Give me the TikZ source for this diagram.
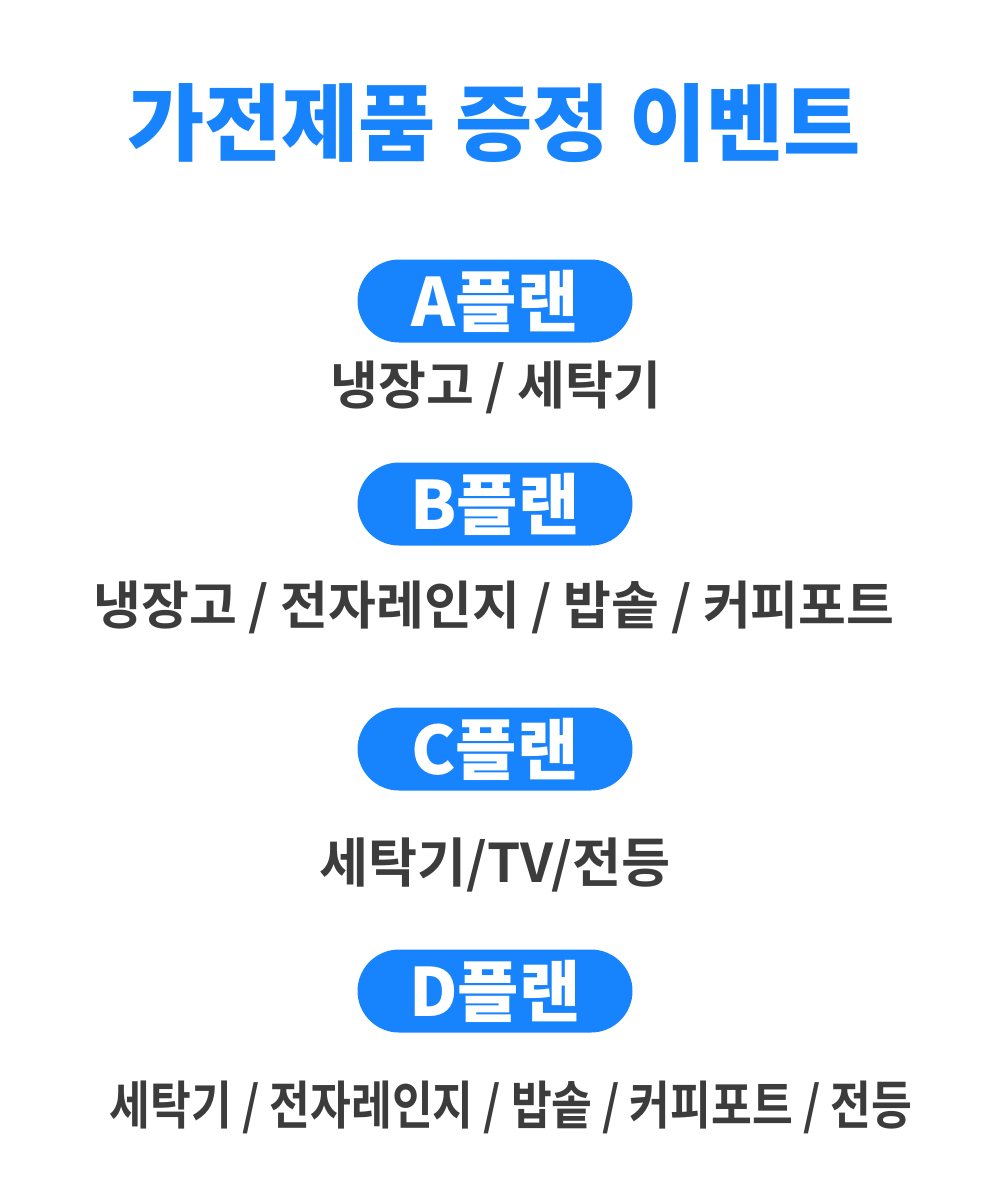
\documentclass[tikz,border=0pt]{standalone}
\usepackage{fontspec}
\usepackage{xcolor}
\usetikzlibrary{positioning}
\newfontfamily\kr{Noto Sans CJK KR Bold}
\newfontfamily\krheavy{Noto Sans CJK KR Black}
\definecolor{planblue}{HTML}{1784FD}
\definecolor{itemgray}{HTML}{3C3C3C}
\tikzset{
    plan/.style={fill=planblue, rounded corners=41.5*0.75pt, minimum width=275*0.75pt,
        minimum height=83*0.75pt, inner sep=0pt, text=white, font=\krheavy\fontsize{50}{50}\selectfont},
    items/.style={text=itemgray, inner sep=0pt, font=\kr\fontsize{39}{39}\selectfont}
}
\begin{document}
\begin{tikzpicture}[x=0.75pt,y=-0.75pt]
    \useasboundingbox (0,0) rectangle (990,1198);
    \node[text=planblue, font=\krheavy\fontsize{63}{63}\selectfont] (title) at (494,123) {가전제품 증정 이벤트};
    \node[plan] (A) at (495,301) {A플랜};
    \node[items] (Aitems) at (496,387) {냉장고 / 세탁기};
    \node[plan] (B) at (495,504) {B플랜};
    \node[items] (Bitems) at (494,607) {냉장고 / 전자레인지 / 밥솥 / 커피포트};
    \node[plan] (C) at (495,749) {C플랜};
    \node[items, font=\kr\fontsize{40}{40}\selectfont] (Citems) at (495,865) {세탁기/TV/전등};
    \node[plan] (D) at (495,991) {D플랜};
    \node[items] (Ditems) at (511,1107) {\scalebox{0.853}[1]{세탁기 / 전자레인지 / 밥솥 / 커피포트 / 전등}};
\end{tikzpicture}
\end{document}
